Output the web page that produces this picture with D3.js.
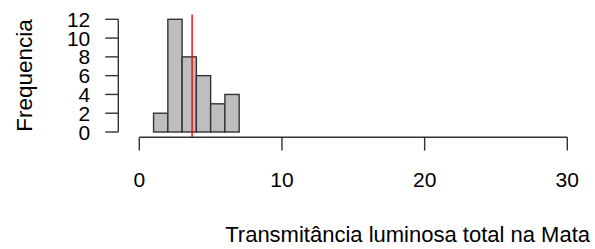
<!DOCTYPE html>
<html>
<head>
<meta charset="utf-8">
<script src="https://cdn.jsdelivr.net/npm/d3@7"></script>
<style>
  body { margin: 0; background: #fff; }
  text { font-family: "Liberation Sans", Arial, sans-serif; fill: #000; }
</style>
</head>
<body>
<div id="chart"></div>
<script>
// histogram bins (left edges) and counts
var binStart = [1, 2, 3, 4, 5, 6];
var binEnd = [2, 3, 4, 5, 6, 7];
var counts = [2, 12, 8, 6, 3, 4];
var xTicks = [0, 10, 20, 30];
var yTicks = [0, 2, 4, 6, 8, 10, 12];
var meanValue = 3.7;
var xTitle = "Transmitância luminosa total na Mata";
var yTitle = "Frequencia";

var width = 595, height = 249;
var svg = d3.select("#chart").append("svg")
  .attr("width", width)
  .attr("height", height);

var x = d3.scaleLinear().domain([0, 30]).range([139.3, 567.3]);
var y = d3.scaleLinear().domain([0, 12]).range([132, 19.3]);

var axisColor = "#333";
var fs = 21;

// bars
svg.selectAll("rect.bar")
  .data(counts)
  .enter().append("rect")
  .attr("class", "bar")
  .attr("x", function(d, i) { return x(binStart[i]); })
  .attr("y", function(d) { return y(d); })
  .attr("width", function(d, i) { return x(binEnd[i]) - x(binStart[i]); })
  .attr("height", function(d) { return y(0) - y(d); })
  .style("fill", "#bebebe")
  .style("stroke", "#333")
  .style("stroke-width", 1.4);

// mean line
svg.append("line")
  .attr("x1", x(meanValue)).attr("x2", x(meanValue))
  .attr("y1", y(12.5)).attr("y2", y(-0.6))
  .style("stroke", "#ff0000")
  .style("stroke-width", 1.4);

// x axis
var xAxisY = 137.3;
var gx = svg.append("g").attr("transform", "translate(0," + xAxisY + ")");
gx.append("line")
  .attr("x1", x(xTicks[0])).attr("x2", x(xTicks[xTicks.length - 1]))
  .attr("y1", 0).attr("y2", 0)
  .style("stroke", axisColor).style("stroke-width", 1.4);
gx.selectAll("line.tick").data(xTicks).enter().append("line")
  .attr("class", "tick")
  .attr("x1", function(d) { return x(d); }).attr("x2", function(d) { return x(d); })
  .attr("y1", 0).attr("y2", 13.3)
  .style("stroke", axisColor).style("stroke-width", 1.4);
gx.selectAll("text").data(xTicks).enter().append("text")
  .attr("x", function(d) { return x(d); })
  .attr("y", 50)
  .attr("text-anchor", "middle")
  .style("font-size", fs + "px")
  .text(function(d) { return d; });

// y axis
var yAxisX = 118.3;
var gy = svg.append("g").attr("transform", "translate(" + yAxisX + ",0)");
gy.append("line")
  .attr("x1", 0).attr("x2", 0)
  .attr("y1", y(yTicks[0])).attr("y2", y(yTicks[yTicks.length - 1]))
  .style("stroke", axisColor).style("stroke-width", 1.4);
gy.selectAll("line.tick").data(yTicks).enter().append("line")
  .attr("class", "tick")
  .attr("x1", 0).attr("x2", -13)
  .attr("y1", function(d) { return y(d); }).attr("y2", function(d) { return y(d); })
  .style("stroke", axisColor).style("stroke-width", 1.4);
gy.selectAll("text").data(yTicks).enter().append("text")
  .attr("x", -28)
  .attr("y", function(d) { return y(d); })
  .attr("dy", "0.36em")
  .attr("text-anchor", "end")
  .style("font-size", fs + "px")
  .text(function(d) { return d; });

// titles
svg.append("text")
  .attr("x", 590)
  .attr("y", 241.5)
  .attr("text-anchor", "end")
  .style("font-size", "22px")
  .text(xTitle);

svg.append("text")
  .attr("transform", "translate(32," + 75.5 + ") rotate(-90)")
  .attr("text-anchor", "middle")
  .style("font-size", "22.5px")
  .text(yTitle);
</script>
</body>
</html>
